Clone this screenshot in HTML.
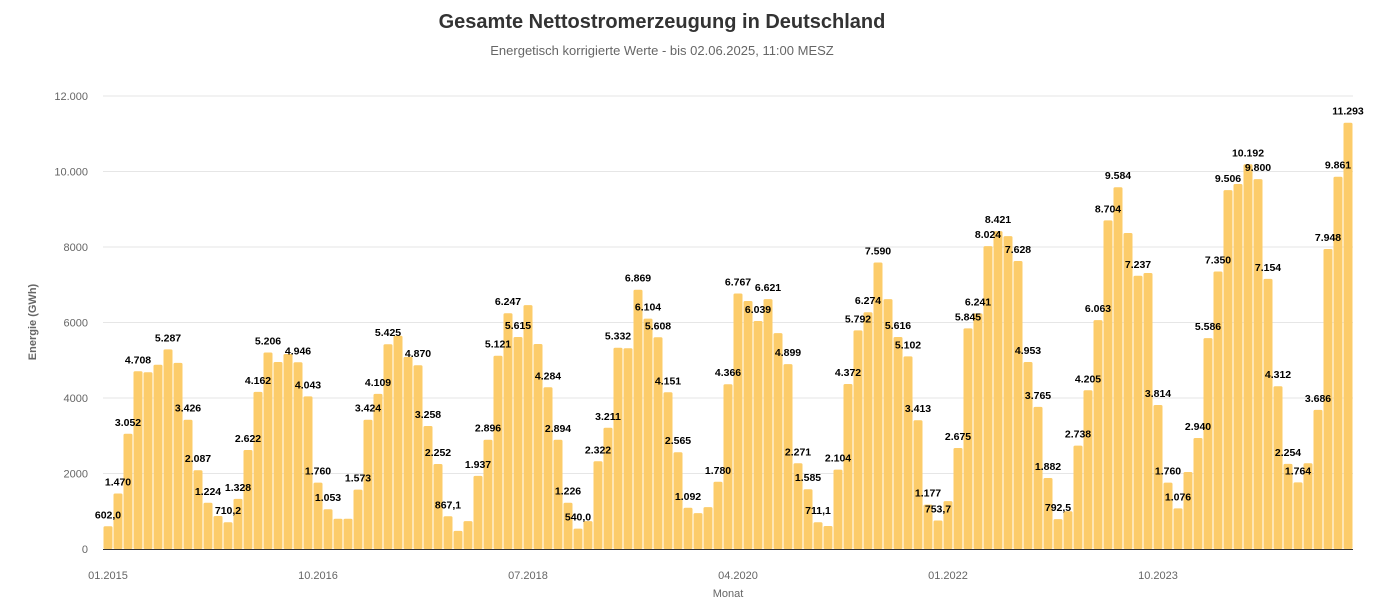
<!DOCTYPE html>
<html><head><meta charset="utf-8"><style>
body{margin:0;background:#fff;}
svg{display:block;font-family:"Liberation Sans",sans-serif;}
</style></head><body>
<svg id="c" width="1380" height="607" xmlns="http://www.w3.org/2000/svg">
<text x="662" y="28" text-anchor="middle" font-size="20" font-weight="bold" fill="#333">Gesamte Nettostromerzeugung in Deutschland</text>
<text x="662" y="55" text-anchor="middle" font-size="13" fill="#666">Energetisch korrigierte Werte - bis 02.06.2025, 11:00 MESZ</text>
<g id="grid"></g>
<g id="bars"></g>
<g id="labs"></g>
<line x1="103" y1="549.5" x2="1353" y2="549.5" stroke="#333" stroke-width="1"/>
<text x="728" y="597" text-anchor="middle" font-size="11" fill="#666">Monat</text>
<text transform="translate(36,322) rotate(-90)" text-anchor="middle" font-size="11" font-weight="bold" fill="#666">Energie (GWh)</text>
</svg>
<script>
var v=[602,1470,3052,4708,4680,4880,5287,4930,3426,2087,1224,874,
710,1328,2622,4162,5206,4954,5165,4946,4043,1760,1053,800,
800,1573,3424,4109,5425,5650,5090,4870,3258,2252,867,480,
740,1937,2896,5121,6247,5615,6460,5430,4284,2894,1226,540,
740,2322,3211,5332,5320,6869,6104,5608,4151,2565,1092,950,
1110,1780,4366,6767,6570,6039,6621,5720,4899,2271,1585,711,
610,2104,4372,5792,6274,7590,6620,5616,5102,3413,1177,754,
1270,2675,5845,6241,8024,8421,8290,7628,4953,3765,1882,792,
1000,2738,4205,6063,8704,9584,8370,7237,7310,3814,1760,1076,
2040,2940,5586,7350,9506,9670,10192,9800,7154,4312,2254,1764,
2270,3686,7948,9861,11293];
var L={0:"602,0",1:"1.470",2:"3.052",3:"4.708",6:"5.287",8:"3.426",9:"2.087",10:"1.224",12:"710,2",13:"1.328",14:"2.622",15:"4.162",16:"5.206",19:"4.946",20:"4.043",21:"1.760",22:"1.053",25:"1.573",26:"3.424",27:"4.109",28:"5.425",31:"4.870",32:"3.258",33:"2.252",34:"867,1",37:"1.937",38:"2.896",39:"5.121",40:"6.247",41:"5.615",44:"4.284",45:"2.894",46:"1.226",47:"540,0",49:"2.322",50:"3.211",51:"5.332",53:"6.869",54:"6.104",55:"5.608",56:"4.151",57:"2.565",58:"1.092",61:"1.780",62:"4.366",63:"6.767",65:"6.039",66:"6.621",68:"4.899",69:"2.271",70:"1.585",71:"711,1",73:"2.104",74:"4.372",75:"5.792",76:"6.274",77:"7.590",79:"5.616",80:"5.102",81:"3.413",82:"1.177",83:"753,7",85:"2.675",86:"5.845",87:"6.241",88:"8.024",89:"8.421",91:"7.628",92:"4.953",93:"3.765",94:"1.882",95:"792,5",97:"2.738",98:"4.205",99:"6.063",100:"8.704",101:"9.584",103:"7.237",105:"3.814",106:"1.760",107:"1.076",109:"2.940",110:"5.586",111:"7.350",112:"9.506",114:"10.192",115:"9.800",116:"7.154",117:"4.312",118:"2.254",119:"1.764",121:"3.686",122:"7.948",123:"9.861",124:"11.293"};
var ns="http://www.w3.org/2000/svg";
function el(t,a,p,txt){var e=document.createElementNS(ns,t);for(var k in a)e.setAttribute(k,a[k]);if(txt!=null)e.textContent=txt;document.getElementById(p).appendChild(e);return e;}
var s=453/12000;
var yl=["0","2000","4000","6000","8000","10.000","12.000"];
for(var i=0;i<=6;i++){var y=549-i*2000*s;
 if(i>0)el("line",{x1:103,x2:1353,y1:y.toFixed(1),y2:y.toFixed(1),stroke:"#e6e6e6","stroke-width":1},"grid");
 el("text",{x:88,y:(y+4).toFixed(1),"text-anchor":"end","font-size":11,fill:"#666"},"grid",yl[i]);}
var xl={0:"01.2015",21:"10.2016",42:"07.2018",63:"04.2020",84:"01.2022",105:"10.2023"};
for(var k in xl){el("text",{x:108+10*k,y:579,"text-anchor":"middle","font-size":11,fill:"#666"},"grid",xl[k]);}
for(var i=0;i<v.length;i++){var h=v[i]*s,x=103+10*i;
 el("rect",{x:x+0.5,y:(549-h).toFixed(1),width:9,height:h.toFixed(1),fill:"#fccc6a",rx:1.5},"bars");
 if(L[i])el("text",{x:x+5,y:(549-h-8).toFixed(1),"text-anchor":"middle","font-size":10.5,"font-weight":"bold",fill:"#000"},"labs",L[i]);}
</script>
</body></html>
